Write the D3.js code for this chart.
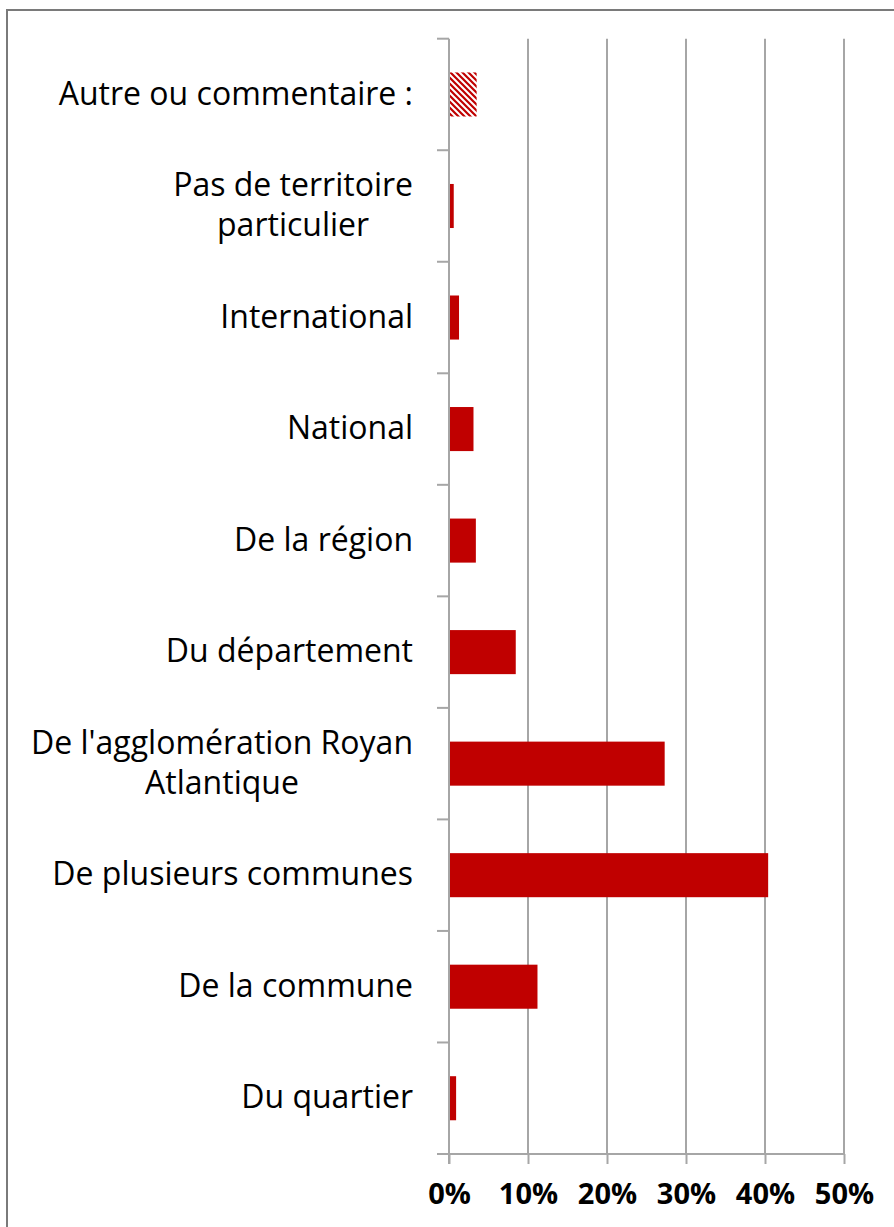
<!DOCTYPE html>
<html>
<head>
<meta charset="utf-8">
<script src="https://cdn.jsdelivr.net/npm/d3@7"></script>
<style>
  body { margin: 0; background: #fff; }
  svg { display: block; font-family: "Open Sans", Lato, sans-serif; }
</style>
</head>
<body>
<div id="chart"></div>
<script>
// categories, top to bottom as shown
var categories = [
  'Autre ou commentaire :',
  'Pas de territoire particulier',
  'International',
  'National',
  'De la région',
  'Du département',
  "De l'agglomération Royan Atlantique",
  'De plusieurs communes',
  'De la commune',
  'Du quartier'
];
var values = [0.035, 0.006, 0.0127, 0.031, 0.034, 0.0845, 0.273, 0.404, 0.112, 0.009];
var hatched = ['Autre ou commentaire :'];
var xTicks = [0, 0.1, 0.2, 0.3, 0.4, 0.5];

var width = 894, height = 1227;
var red = '#c00000', grid = '#a6a6a6';

var svg = d3.select('#chart')
            .append('svg')
            .attr('width', width)
            .attr('height', height)

// hatch pattern for the "autre" bar
var pat = svg.append('defs').append('pattern')
    .attr('id', 'hatch')
    .attr('patternUnits', 'userSpaceOnUse')
    .attr('width', 6).attr('height', 6)
pat.append('rect').attr('width', 6).attr('height', 6).attr('fill', '#fff')
pat.append('path')
    .attr('d', 'M-3,3 L3,9 M0,0 L6,6 M3,-3 L9,3')
    .attr('stroke', red).attr('stroke-width', 2.2)

// outer frame (cropped on right / bottom)
svg.append('rect')
    .attr('x', 7).attr('y', 10)
    .attr('width', 1000).attr('height', 1400)
    .attr('fill', 'none')
    .attr('stroke', '#7a7a7a')
    .attr('stroke-width', 2)

var x = d3.scaleLinear().domain([0, 0.5]).range([449, 844]);
var y = d3.scaleBand().domain(categories).range([38.7, 1154]).paddingInner(0.605).paddingOuter(0.3025);

// gridlines
svg.append('g').selectAll('line')
    .data(xTicks.slice(1))
    .join('line')
    .attr('x1', d => Math.round(x(d))).attr('x2', d => Math.round(x(d)))
    .attr('y1', 38.7).attr('y2', 1154)
    .attr('stroke', grid).attr('stroke-width', 2)

// x axis
var xAxis = svg.append('g')
    .attr('transform', 'translate(0,1154)')
    .call(d3.axisBottom(x).tickValues(xTicks).tickFormat(d3.format('.0%')).tickSize(10).tickPadding(19).tickSizeOuter(0))
xAxis.select('.domain').remove()
xAxis.selectAll('.tick line').attr('stroke', grid).attr('stroke-width', 2)
xAxis.selectAll('.tick text')
    .attr('fill', '#000')
    .style('font-family', '"Open Sans", sans-serif')
    .style('font-size', '29px')
    .style('font-weight', 'bold')
svg.append('line')
    .attr('x1', 437).attr('x2', 844).attr('y1', 1154).attr('y2', 1154)
    .attr('stroke', grid).attr('stroke-width', 2)

// y axis line + ticks at band edges
svg.append('line')
    .attr('x1', 449).attr('x2', 449).attr('y1', 38.7).attr('y2', 1164)
    .attr('stroke', grid).attr('stroke-width', 2)
svg.append('g').selectAll('line')
    .data(d3.range(categories.length))
    .join('line')
    .attr('x1', 437).attr('x2', 449)
    .attr('y1', i => y.range()[0] + i * y.step())
    .attr('y2', i => y.range()[0] + i * y.step())
    .attr('stroke', grid).attr('stroke-width', 2)

// bars
svg.append('g').selectAll('rect')
    .data(categories)
    .join('rect')
    .attr('x', x(0) + 1)
    .attr('y', d => y(d))
    .attr('height', y.bandwidth())
    .attr('width', (d, i) => x(values[i]) - x(0) - 1)
    .attr('fill', d => hatched.includes(d) ? 'url(#hatch)' : red)

// category labels, wrapped and centred like excel does
var fs = 32, lineH = 40, maxW = 390, rightX = 413;
var labels = svg.append('g').style('font-size', fs + 'px').attr('fill', '#000')
categories.forEach(function (c) {
    var words = c.split(' '), lines = [], cur = '';
    var probe = labels.append('text')
    words.forEach(function (w) {
        var t = cur ? cur + ' ' + w : w;
        probe.text(t)
        if (probe.node().getComputedTextLength() > maxW && cur) {
            lines.push(cur); cur = w;
        } else cur = t;
    })
    lines.push(cur)
    var widths = lines.map(function (l) { probe.text(l); return probe.node().getComputedTextLength(); })
    probe.remove()
    var cx = rightX - d3.max(widths) / 2;
    var cy = y(c) + y.bandwidth() / 2;
    var t = labels.append('text').attr('text-anchor', 'middle')
    lines.forEach(function (l, i) {
        t.append('tspan')
            .attr('x', cx)
            .attr('y', cy + (i - (lines.length - 1) / 2) * lineH + fs * 0.32)
            .text(l)
    })
})
</script>
</body>
</html>
